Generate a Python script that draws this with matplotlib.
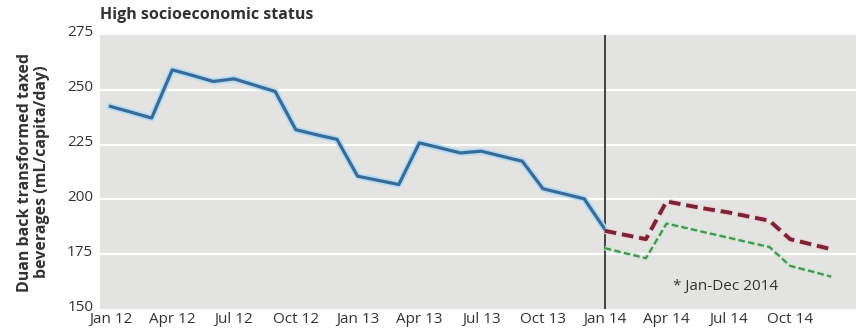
"""
High socioeconomic status - taxed beverages, observed vs expected
"""

import matplotlib
matplotlib.use("Agg")
import matplotlib.pyplot as plt
import matplotlib.patheffects as pe
import matplotlib.transforms as mtransforms

plt.rcParams['font.family'] = ['Open Sans', 'DejaVu Sans']

# months since Jan 2012
months_obs = list(range(0, 25))
observed = [242.4, 239.8, 237.1, 259.1, 256.5, 253.8, 255.0, 252.1, 249.2,
            231.8, 229.5, 227.4, 210.6, 208.7, 206.8, 225.8, 223.5, 221.2,
            222.0, 219.7, 217.4, 204.9, 202.6, 200.3, 186.5]

months_2014 = list(range(24, 36))
expected = [185.7, 183.8, 181.9, 199.1, 197.3, 195.6, 194.1, 192.2, 190.3,
            181.9, 179.6, 177.3]
observed_2014 = [177.8, 175.5, 173.2, 189.0, 186.9, 184.7, 182.6, 180.4, 178.3,
                 169.7, 167.3, 164.8]

tick_pos = list(range(0, 36, 3))
tick_labels = ['Jan 12', 'Apr 12', 'Jul 12', 'Oct 12', 'Jan 13', 'Apr 13',
               'Jul 13', 'Oct 13', 'Jan 14', 'Apr 14', 'Jul 14', 'Oct 14']
y_ticks = [150, 175, 200, 225, 250, 275]

fig = plt.figure(figsize=(8.56, 3.36), dpi=100)
ax = fig.add_axes([0.117, 0.080, 0.883, 0.816])
ax.set_facecolor('#e3e3e1')

for y in y_ticks[1:-1]:
    ax.axhline(y, color='white', lw=1.6, zorder=1)

ax.axvline(24, color='#444444', lw=1.4, zorder=2)

ax.plot(months_obs, observed, color='#3a6a96', lw=2.3, zorder=4,
        path_effects=[pe.Stroke(linewidth=4.8, foreground='#b5dcf3'), pe.Normal()])
ax.plot(months_2014, expected, color='#7a2436', lw=2.8, zorder=4,
        dashes=(3.0, 1.5),
        path_effects=[pe.Stroke(linewidth=4.4, foreground='#f3c9cf'), pe.Normal()])
ax.plot(months_2014, observed_2014, color='#4a9055', lw=1.6, zorder=4,
        dashes=(3.0, 1.4),
        path_effects=[pe.Stroke(linewidth=3.4, foreground='#c3ebc6'), pe.Normal()])

ax.text(27.3, 160.5, '* Jan-Dec 2014', fontsize=11, color='#333333',
        va='center', ha='left')

ax.set_xlim(-0.5, 36.2)
ax.set_ylim(150, 275)
ax.set_yticks(y_ticks)
ax.set_xticks(tick_pos)
ax.set_xticklabels(tick_labels)
ax.tick_params(length=0, labelsize=11, colors='#333333')
ax.tick_params(axis='x', pad=2)
ax.tick_params(axis='y', pad=5)
# y labels sit a little above their gridlines
shift = mtransforms.ScaledTranslation(0, 4 / 100, fig.dpi_scale_trans)
for lab in ax.get_yticklabels():
    lab.set_transform(lab.get_transform() + shift)
for s in ax.spines.values():
    s.set_visible(False)

ax.set_ylabel('Duan back transformed taxed\nbeverages (mL/capita/day)',
              fontsize=11.5, fontweight='bold', color='#333333', labelpad=12,
              linespacing=1.15)
fig.text(0.117, 0.955, 'High socioeconomic status', fontsize=11.5,
         fontweight='bold', color='#333333', ha='left', va='center')

fig.savefig('out.png', dpi=100)
